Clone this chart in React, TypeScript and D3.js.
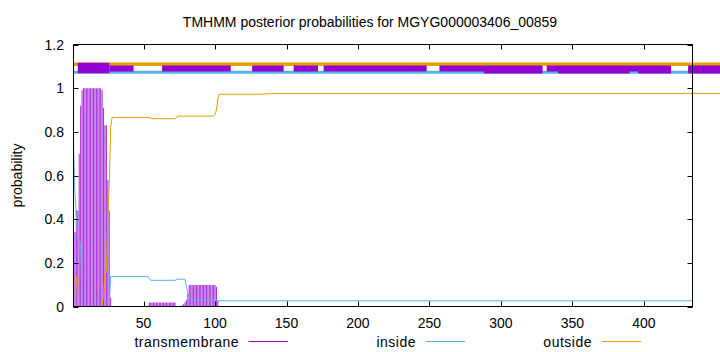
import React from "react";
import * as d3 from "d3";

// ---- data ----
const seqStart = 1;
const seqEnd = 434;
const xTicks = [50, 100, 150, 200, 250, 300, 350, 400];
const yTicks = [0, 0.2, 0.4, 0.6, 0.8, 1, 1.2];
const yTickLabels = ["0", "0.2", "0.4", "0.6", "0.8", "1", "1.2"];

// transmembrane posterior, residues 1..102 (rest are 0)
const tmValues = [
  0.34, 0.34, 0.44, 0.44, 0.7, 0.92, 0.99, 1, 1, 1,
  1, 1, 1, 1, 1, 1, 1, 1, 1, 1,
  0.99, 0.91, 0.83, 0.83, 0.58, 0.44, 0.04, 0, 0, 0,
  0, 0, 0, 0, 0, 0, 0, 0, 0, 0,
  0, 0, 0, 0, 0, 0, 0, 0, 0, 0,
  0, 0, 0, 0.018, 0.018, 0.018, 0.018, 0.018, 0.018, 0.018,
  0.018, 0.018, 0.018, 0.018, 0.018, 0.018, 0.018, 0.018, 0.018, 0.018,
  0.018, 0.018, 0, 0, 0, 0, 0.005, 0.01, 0.02, 0.03,
  0.06, 0.099, 0.099, 0.099, 0.099, 0.099, 0.099, 0.099, 0.099, 0.099,
  0.099, 0.099, 0.099, 0.099, 0.099, 0.099, 0.099, 0.099, 0.099, 0.099,
  0.09, 0.03,
];

// inside posterior (breakpoints)
const insideX = [1, 2, 3, 4, 5, 6, 7, 26, 27, 53, 55, 72, 74, 79, 81, 83, 100, 102, 434];
const insideY = [0.75, 0.52, 0.42, 0.31, 0.3, 0.29, 0, 0, 0.137, 0.137, 0.12, 0.12, 0.125, 0.125, 0.06, 0.03, 0.029, 0.026, 0.026];

// outside posterior (breakpoints)
const outsideX = [1, 2, 3, 4, 20, 21, 22, 23, 24, 25, 26, 27, 28, 54, 56, 72, 74, 99, 100, 101, 102, 103, 130, 145, 456];
const outsideY = [0.137, 0.137, 0.137, 0, 0, 0.01, 0.05, 0.15, 0.16, 0.42, 0.55, 0.82, 0.866, 0.866, 0.86, 0.86, 0.872, 0.872, 0.88, 0.9, 0.95, 0.972, 0.972, 0.976, 0.976];

// predicted topology bars along the top
const topExtentEnd = 456;
const tmBarStart = [26, 63, 126, 155, 176, 257, 332, 431];
const tmBarEnd = [43, 111, 148, 172, 248, 329, 419, 456];
const tmMainStart = [4];
const tmMainEnd = [26];
const tmWideStart = [288, 340, 396, 431];
const tmWideEnd = [329, 390, 419, 456];

const title = "TMHMM posterior probabilities for MGYG000003406_00859";
const legendNames = ["transmembrane", "inside", "outside"];

// ---- styles ----
const C_TM = "#9400d3";
const C_IN = "#56b4e9";
const C_OUT = "#e69f00";
const FONT = "'Liberation Sans', Arial, Helvetica, sans-serif";

export default function App() {
  const W = 720, H = 352;
  const left = 73.5, right = 692.5, top = 44.5, bottom = 306.5;
  const x = d3.scaleLinear().domain([seqStart, seqEnd]).range([left, right]);
  const y = d3.scaleLinear().domain([0, 1.2]).range([bottom, top]);

  const line = d3.line<[number, number]>().x((d) => x(d[0])).y((d) => y(d[1]));
  const insidePath = line(insideX.map((v, i) => [v, insideY[i]]))!;
  const outsidePath = line(outsideX.map((v, i) => [v, outsideY[i]]))!;

  const legendTextEnd = [239, 416, 592];
  const legendY = 346.5;

  return (
    <svg width={W} height={H} style={{ position: "absolute", left: 0, top: 0, background: "#fff" }} fontFamily={FONT}>
      <rect x={0} y={0} width={W} height={H} fill="#fff" />
      {/* title */}
      <text x={370} y={27} fontSize={14} textAnchor="middle" fill="#000">{title}</text>

      {/* impulses */}
      <g stroke={C_TM} strokeWidth={1.1} strokeOpacity={0.8}>
        {tmValues.map((v, i) =>
          v > 0 ? <line key={i} x1={x(i + 1)} x2={x(i + 1)} y1={y(0)} y2={y(v)} /> : null
        )}
      </g>

      {/* probability lines */}
      <path d={insidePath} fill="none" stroke={C_IN} strokeWidth={1} />
      <path d={outsidePath} fill="none" stroke={C_OUT} strokeWidth={1} />

      {/* top topology bars */}
      <line x1={x(seqStart)} x2={x(topExtentEnd)} y1={y(1.11)} y2={y(1.11)} stroke={C_OUT} strokeWidth={3.5} />
      <line x1={x(seqStart)} x2={x(topExtentEnd)} y1={y(1.073)} y2={y(1.073)} stroke={C_IN} strokeWidth={3} />
      {tmBarStart.map((s, i) => (
        <line key={"b" + i} x1={x(s)} x2={x(tmBarEnd[i])} y1={y(1.09)} y2={y(1.09)} stroke={C_TM} strokeWidth={6} />
      ))}
      {tmWideStart.map((s, i) => (
        <line key={"w" + i} x1={x(s)} x2={x(tmWideEnd[i])} y1={y(1.083)} y2={y(1.083)} stroke={C_TM} strokeWidth={7} />
      ))}
      {tmMainStart.map((s, i) => (
        <line key={"m" + i} x1={x(s)} x2={x(tmMainEnd[i])} y1={y(1.092)} y2={y(1.092)} stroke={C_TM} strokeWidth={10.5} />
      ))}

      {/* ticks */}
      <g stroke="#000" strokeWidth={1}>
        {xTicks.map((t) => (
          <g key={"xt" + t}>
            <line x1={Math.round(x(t)) + 0.5} x2={Math.round(x(t)) + 0.5} y1={bottom} y2={bottom - 5} />
            <line x1={Math.round(x(t)) + 0.5} x2={Math.round(x(t)) + 0.5} y1={top} y2={top + 5} />
          </g>
        ))}
        {yTicks.map((t) => (
          <g key={"yt" + t}>
            <line x1={left} x2={left + 5} y1={Math.round(y(t)) + 0.5} y2={Math.round(y(t)) + 0.5} />
            <line x1={right} x2={right - 5} y1={Math.round(y(t)) + 0.5} y2={Math.round(y(t)) + 0.5} />
          </g>
        ))}
      </g>

      {/* frame */}
      <rect x={left} y={top} width={right - left} height={bottom - top} fill="none" stroke="#000" strokeWidth={1} />

      {/* tick labels */}
      <g fontSize={14} fill="#000">
        {xTicks.map((t) => (
          <text key={"xl" + t} x={x(t)} y={327.5} textAnchor="middle">{t}</text>
        ))}
        {yTicks.map((t, i) => (
          <text key={"yl" + t} x={64} y={y(t) + 5} textAnchor="end">{yTickLabels[i]}</text>
        ))}
      </g>

      {/* y label */}
      <text transform="translate(22,175.5) rotate(-90)" fontSize={14} textAnchor="middle" fill="#000">probability</text>

      {/* legend */}
      <g fontSize={14} fill="#000">
        {legendNames.map((n, i) => (
          <g key={n}>
            <text x={legendTextEnd[i]} y={legendY} textAnchor="end" letterSpacing={0.5}>{n}</text>
            <line x1={legendTextEnd[i] + 9.5} x2={legendTextEnd[i] + 49} y1={341.5} y2={341.5}
              stroke={[C_TM, C_IN, C_OUT][i]} strokeWidth={1} />
          </g>
        ))}
      </g>
    </svg>
  );
}
